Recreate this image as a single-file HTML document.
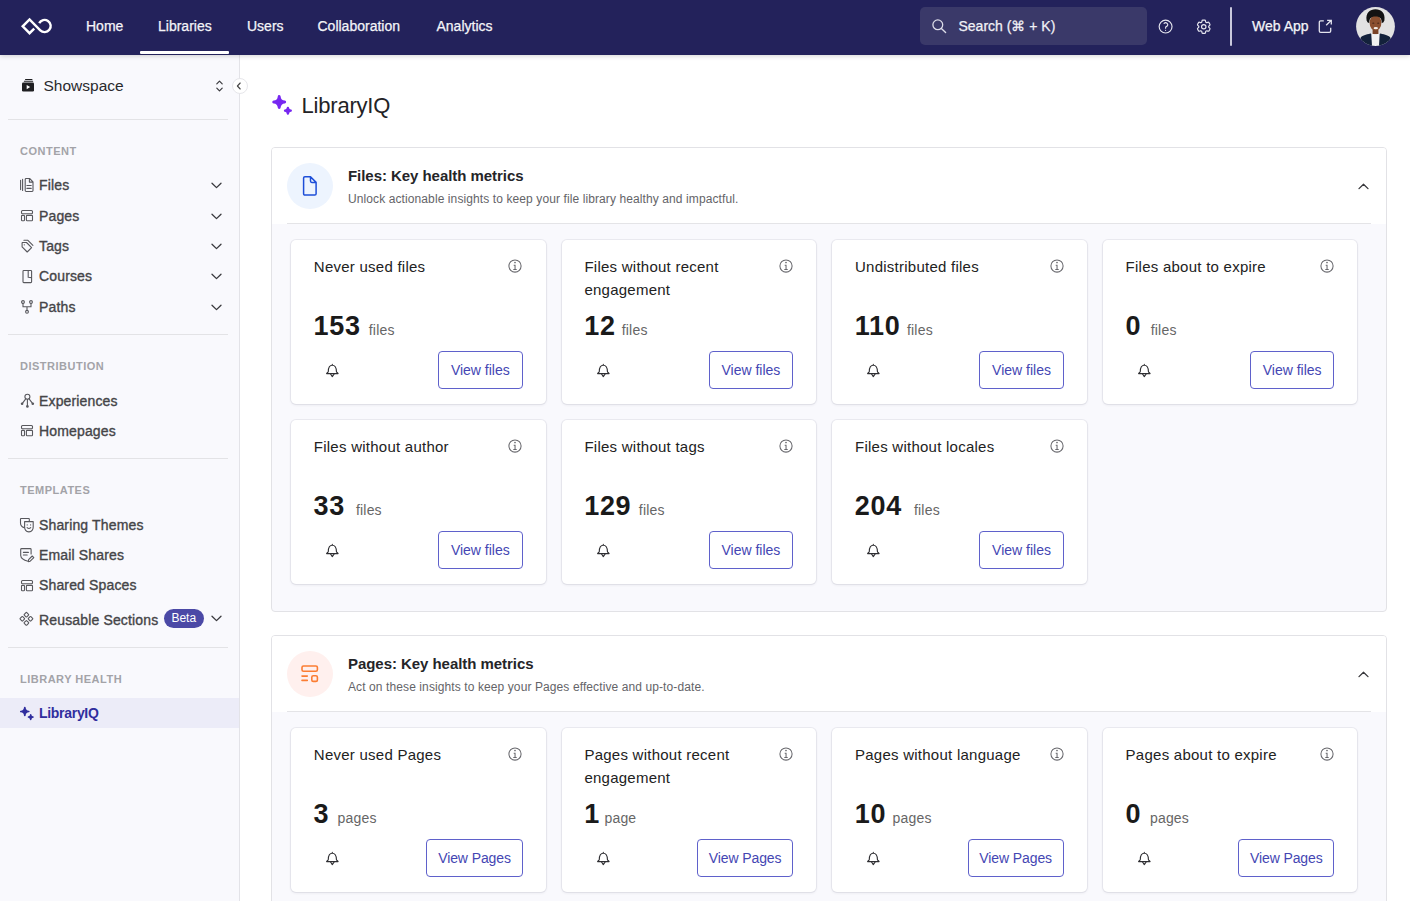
<!DOCTYPE html>
<html><head><meta charset="utf-8"><title>LibraryIQ</title>
<style>
*{box-sizing:border-box;margin:0;padding:0}
html,body{width:1410px;height:901px;overflow:hidden;background:#fff;font-family:"Liberation Sans",sans-serif;color:#222}
.abs{position:absolute}
svg{display:block;position:absolute;overflow:visible}
#top{position:absolute;left:0;top:0;width:1410px;height:55px;background:#23225b;z-index:5;box-shadow:0 1px 5px rgba(0,0,0,.18)}
.nav{position:absolute;top:15.7px;font-size:14px;line-height:20px;color:#f4f4f8;white-space:nowrap;-webkit-text-stroke:.25px #f4f4f8}
#uline{position:absolute;left:140px;top:51.3px;width:89px;height:3px;background:#fff;border-radius:1px}
#search{position:absolute;left:920px;top:7px;width:227px;height:38px;background:#3a3969;border-radius:5px}
#side{position:absolute;z-index:2;left:0;top:55px;width:240px;height:846px;background:#f9f9fd;border-right:1px solid #e3e3e8}
.sep{position:absolute;left:8px;width:220px;height:1px;background:#e3e3e6}
.lab{position:absolute;left:20px;font-size:11px;line-height:16px;font-weight:700;letter-spacing:.5px;color:#a3a3a8}
.it{position:absolute;left:39px;font-size:14px;line-height:20px;color:#454548;white-space:nowrap;letter-spacing:.15px;-webkit-text-stroke:.35px #454548}
.chev{position:absolute;left:211px;width:11px;height:7px}
#main{position:absolute;left:240px;top:55px;width:1170px;height:846px;background:#fff}
.sec{position:absolute;left:271px;width:1116px;height:464px;border:1px solid #e2e2e6;border-radius:4px;background:#f9f9fd;overflow:hidden}
.sechd{position:absolute;left:0;top:0;width:1114px;height:76px;background:#fff}
.sechd .line{position:absolute;left:15px;top:75px;width:1084px;height:1px;background:#e4e4e7}
.circ{position:absolute;left:15px;top:15px;width:46px;height:46px;border-radius:50%}
.sect{position:absolute;left:76px;top:17.5px;font-size:15px;line-height:20px;font-weight:700;color:#252528;white-space:nowrap;letter-spacing:-.05px}
.secs{position:absolute;left:76px;top:43px;font-size:12px;line-height:16px;color:#646468;white-space:nowrap;letter-spacing:.1px}
.card{position:absolute;width:254.6px;height:164px;background:#fff;border-radius:5px;box-shadow:0 0 0 1px rgba(30,30,70,.06),0 1px 3px rgba(30,30,70,.09)}
.ct{position:absolute;left:22.8px;top:15.2px;width:190px;font-size:15px;line-height:23px;color:#222;letter-spacing:.25px}
.num{position:absolute;left:22.6px;top:69.8px;font-size:27px;line-height:32px;font-weight:700;color:#1a1a1a;letter-spacing:.7px;white-space:nowrap}
.num span{font-size:14px;font-weight:400;color:#666;letter-spacing:.2px;margin-left:8px}
.btn{position:absolute;right:23px;top:111px;height:38px;border:1px solid #5f61cb;border-radius:4px;font-size:14px;line-height:36px;color:#4446b3;text-align:center;white-space:nowrap;width:84.5px}
.btn.p{width:96.2px;letter-spacing:-.1px}
</style></head><body>
<div id="top">
<svg style="left:16px;top:12px" width="40" height="28" viewBox="0 0 40 28"><path d="M18.2 16.6 L13.55 21.2 L6.7 14.35 L13.55 7.5 L24.29 18.31 A6.1 6.1 0 1 0 23.21 11.14" fill="none" stroke="#fff" stroke-width="2.4" stroke-linejoin="miter"/></svg>
<div class="nav" style="left:86px">Home</div>
<div class="nav" style="left:158px">Libraries</div>
<div class="nav" style="left:247px">Users</div>
<div class="nav" style="left:317.5px">Collaboration</div>
<div class="nav" style="left:436.5px">Analytics</div>
<div id="uline"></div>
<div id="search"></div>
<svg style="left:932px;top:19px" width="15" height="14" viewBox="0 0 15 14"><circle cx="5.8" cy="5.8" r="4.9" fill="none" stroke="#dcdce8" stroke-width="1.3"/><path d="M9.4 9.4 L13.6 13.4" stroke="#dcdce8" stroke-width="1.4" stroke-linecap="round"/></svg>
<div class="nav" style="left:958.5px;top:16.4px;color:#f0f0f5">Search (&#8984; + K)</div>
<svg style="left:1157.35px;top:18px" width="17.2" height="17.2" viewBox="0 0 24 24"><path fill="none" stroke="#e6e6ef" stroke-width="1.6" stroke-linecap="round" stroke-linejoin="round" d="M9.879 7.519c1.171-1.025 3.071-1.025 4.242 0 1.172 1.025 1.172 2.687 0 3.712-.203.179-.43.326-.67.442-.745.361-1.45.999-1.45 1.827v.75M21 12a9 9 0 1 1-18 0 9 9 0 0 1 18 0Zm-9 5.25h.008v.008H12v-.008Z"/></svg>
<svg style="left:1195.3px;top:18.4px" width="17.5" height="17.5" viewBox="0 0 24 24"><path fill="none" stroke="#e6e6ef" stroke-width="1.6" stroke-linecap="round" stroke-linejoin="round" d="M9.594 3.94c.09-.542.56-.94 1.11-.94h2.593c.55 0 1.02.398 1.11.94l.213 1.281c.063.374.313.686.645.87.074.04.147.083.22.127.325.196.72.257 1.075.124l1.217-.456a1.125 1.125 0 0 1 1.37.49l1.296 2.247a1.125 1.125 0 0 1-.26 1.431l-1.003.827c-.293.241-.438.613-.43.992a7.723 7.723 0 0 1 0 .255c-.008.378.137.75.43.991l1.004.827c.424.35.534.955.26 1.43l-1.298 2.247a1.125 1.125 0 0 1-1.369.491l-1.217-.456c-.355-.133-.75-.072-1.076.124a6.47 6.47 0 0 1-.22.128c-.331.183-.581.495-.644.869l-.213 1.281c-.09.543-.56.94-1.11.94h-2.594c-.55 0-1.019-.398-1.11-.94l-.213-1.281c-.062-.374-.312-.686-.644-.87a6.52 6.52 0 0 1-.22-.127c-.325-.196-.72-.257-1.076-.124l-1.217.456a1.125 1.125 0 0 1-1.369-.49l-1.297-2.247a1.125 1.125 0 0 1 .26-1.431l1.004-.827c.292-.24.437-.613.43-.991a6.932 6.932 0 0 1 0-.255c.007-.38-.138-.751-.43-.992l-1.004-.827a1.125 1.125 0 0 1-.26-1.43l1.297-2.247a1.125 1.125 0 0 1 1.37-.491l1.216.456c.356.133.751.072 1.076-.124.072-.044.146-.086.22-.128.332-.183.582-.495.644-.869l.214-1.28Z"/><path fill="none" stroke="#e6e6ef" stroke-width="1.6" d="M15 12a3 3 0 1 1-6 0 3 3 0 0 1 6 0Z"/></svg>
<div class="abs" style="left:1230px;top:7px;width:2px;height:39px;background:#c9c9dc;border-radius:1px"></div>
<div class="nav" style="left:1252px;top:15.7px">Web App</div>
<svg style="left:1318px;top:19px" width="15" height="15" viewBox="0 0 15 15"><path d="M5.8 1.9 H2.7 Q1.3 1.9 1.3 3.3 V11.9 Q1.3 13.3 2.7 13.3 H11.3 Q12.7 13.3 12.7 11.9 V8.7" fill="none" stroke="#e4e4ee" stroke-width="1.3"/><path d="M8.2 6.3 L13.2 1.3 M9.1 1.3 H13.3 V5.5" fill="none" stroke="#e4e4ee" stroke-width="1.3"/></svg>
<svg style="left:1356px;top:7px" width="39" height="39" viewBox="0 0 39 39"><defs><clipPath id="av"><circle cx="19.5" cy="19.5" r="19.4"/></clipPath></defs><g clip-path="url(#av)"><rect width="39" height="39" fill="#e2e2e2"/><path d="M3.5 39 L4.5 31 C6 28.6 10 27.6 14.5 26.6 L19.5 28 L24.5 26.6 C29 27.6 33 28.6 34.6 31 L35.5 39 Z" fill="#13213b"/><path d="M15.2 26 L19.5 27.5 L23.7 26 L23 39 L16 39 Z" fill="#f2f2f2"/><rect x="16.6" y="20" width="5.8" height="7" fill="#7a4327"/><ellipse cx="19.5" cy="15.8" rx="5.9" ry="7.6" fill="#8b5030"/><path d="M10.6 13.5 C9.4 5.5 14 2.2 19.5 2.2 C25 2.2 29.6 5.5 28.4 13.5 C27.8 15.2 26.8 16 25.8 16 C25.6 12 24.6 9.6 19.5 9.6 C14.4 9.6 13.4 12 13.2 16 C12.2 16 11.2 15.2 10.6 13.5 Z" fill="#121212"/><ellipse cx="19.8" cy="21.2" rx="2.2" ry="1.1" fill="#f4efe9"/><ellipse cx="17.3" cy="16.2" rx="1.1" ry=".6" fill="#4a2818"/><ellipse cx="22.2" cy="16.2" rx="1.1" ry=".6" fill="#4a2818"/></g></svg>
</div>
<div id="side">
<svg style="left:22px;top:23.5px" width="12" height="13" viewBox="0 0 12 13"><rect x="3" y="0" width="7.5" height="1" rx=".5" fill="#1f1f22"/><rect x="1.8" y="1.8" width="9.4" height="1" rx=".5" fill="#1f1f22"/><rect x="0" y="3.6" width="12" height="9" rx="1.3" fill="#1f1f22"/><path d="M4.7 5.9 L8.2 8.1 L4.7 10.3 Z" fill="#fff"/></svg>
<div class="abs" style="left:43.5px;top:20.5px;font-size:15.5px;line-height:20px;color:#2a2a2d;white-space:nowrap">Showspace</div>
<svg style="left:215.5px;top:25px" width="7" height="12" viewBox="0 0 7 12"><path d="M.8 3.8 L3.5 1.1 L6.2 3.8 M.8 8.2 L3.5 10.9 L6.2 8.2" fill="none" stroke="#3a3a3e" stroke-width="1.2" stroke-linecap="round" stroke-linejoin="round"/></svg>
<div class="sep" style="top:63.5px"></div>
<svg style="left:20px;top:123.00px" width="14" height="14" viewBox="0 0 14 14"><path d="M.6 2.2 V11.6 M2.6 1.4 V12.4" fill="none" stroke="#58585d" stroke-width="1.1" stroke-linecap="round" stroke-linejoin="round"/><path d="M5.2 1.4 Q5.2 .5 6.1 .5 H9.6 L13 3.9 V12.6 Q13 13.5 12.1 13.5 H6.1 Q5.2 13.5 5.2 12.6 Z M9.4 .6 V4.1 H12.9" fill="none" stroke="#58585d" stroke-width="1.1" stroke-linecap="round" stroke-linejoin="round"/><path d="M6.9 7.5 H11.2 M6.9 10.4 H11.2" fill="none" stroke="#58585d" stroke-width="1.1" stroke-linecap="round" stroke-linejoin="round"/></svg>
<svg style="left:21px;top:154.60px" width="12" height="12" viewBox="0 0 12 12"><rect x=".5" y=".5" width="11" height="3.2" rx="1" fill="none" stroke="#58585d" stroke-width="1.1" stroke-linecap="round" stroke-linejoin="round"/><rect x=".5" y="5.4" width="3" height="5.4" rx=".8" fill="none" stroke="#58585d" stroke-width="1.1" stroke-linecap="round" stroke-linejoin="round"/><rect x="5.4" y="5.4" width="6.1" height="5.4" rx=".8" fill="none" stroke="#58585d" stroke-width="1.1" stroke-linecap="round" stroke-linejoin="round"/></svg>
<svg style="left:20.5px;top:183.80px" width="13" height="14" viewBox="0 0 13 14"><path d="M1.1 3.9 V7.9 L6.2 13 L10.6 8.6 L5.5 3.5 H1.5 Z" fill="none" stroke="#58585d" stroke-width="1.1" stroke-linecap="round" stroke-linejoin="round"/><circle cx="3.3" cy="5.8" r=".65" fill="#58585d"/><path d="M2.9 1.3 H6.9 L11.9 6.3" fill="none" stroke="#58585d" stroke-width="1.1" stroke-linecap="round" stroke-linejoin="round"/></svg>
<svg style="left:22px;top:214.50px" width="11" height="14" viewBox="0 0 11 14"><path d="M1 1.3 Q1 .5 1.8 .5 H8.8 Q9.6 .5 9.6 1.3 V11.8 Q9.6 12.6 8.8 12.6 H1.8 Q1 12.6 1 11.8 Z" fill="none" stroke="#58585d" stroke-width="1.1" stroke-linecap="round" stroke-linejoin="round"/><path d="M6.2 .6 V7.2 L9.5 7.6" fill="none" stroke="#58585d" stroke-width="1.1" stroke-linecap="round" stroke-linejoin="round"/></svg>
<svg style="left:21px;top:245.00px" width="12" height="14" viewBox="0 0 12 14"><circle cx="2" cy="2" r="1.4" fill="none" stroke="#58585d" stroke-width="1.1" stroke-linecap="round" stroke-linejoin="round"/><circle cx="10" cy="2" r="1.4" fill="none" stroke="#58585d" stroke-width="1.1" stroke-linecap="round" stroke-linejoin="round"/><circle cx="6" cy="11.8" r="1.4" fill="none" stroke="#58585d" stroke-width="1.1" stroke-linecap="round" stroke-linejoin="round"/><path d="M2 3.4 V6.8 H10 V3.4 M6 6.8 V10.4" fill="none" stroke="#58585d" stroke-width="1.1" stroke-linecap="round" stroke-linejoin="round"/></svg>
<svg style="left:20.5px;top:338.00px" width="13" height="15" viewBox="0 0 13 15"><circle cx="6.4" cy="3.7" r="2.5" fill="none" stroke="#58585d" stroke-width="1.1" stroke-linecap="round" stroke-linejoin="round"/><path d="M4.9 5.7 L1.2 10.6 M6.4 6.2 V13.4 M7.9 5.7 L11.7 10.6" fill="none" stroke="#58585d" stroke-width="1.1" stroke-linecap="round" stroke-linejoin="round"/><circle cx="1.1" cy="10.7" r="1.3" fill="#58585d"/><circle cx="6.4" cy="13.4" r="1.3" fill="#58585d"/><circle cx="11.8" cy="10.7" r="1.3" fill="#58585d"/></svg>
<svg style="left:21px;top:370.40px" width="12" height="12" viewBox="0 0 12 12"><rect x=".5" y=".5" width="11" height="3.2" rx="1" fill="none" stroke="#58585d" stroke-width="1.1" stroke-linecap="round" stroke-linejoin="round"/><rect x=".5" y="5.4" width="3" height="5.4" rx=".8" fill="none" stroke="#58585d" stroke-width="1.1" stroke-linecap="round" stroke-linejoin="round"/><rect x="5.4" y="5.4" width="6.1" height="5.4" rx=".8" fill="none" stroke="#58585d" stroke-width="1.1" stroke-linecap="round" stroke-linejoin="round"/></svg>
<svg style="left:20px;top:462.50px" width="14" height="15" viewBox="0 0 14 15"><path d="M4.2 9.6 Q.5 8.6 .5 5 V1 Q.5 .5 1 .5 H8.8 Q9.3 .5 9.3 1 V3" fill="none" stroke="#58585d" stroke-width="1.1" stroke-linecap="round" stroke-linejoin="round"/><path d="M4.6 3.6 H13.2 V9 Q13.2 13.4 8.9 13.9 Q4.6 13.4 4.6 9 Z" fill="none" stroke="#58585d" stroke-width="1.1" stroke-linecap="round" stroke-linejoin="round"/><circle cx="7.2" cy="6.9" r=".6" fill="#58585d"/><circle cx="10.6" cy="6.9" r=".6" fill="#58585d"/><path d="M7.1 9.6 Q8.9 11.4 10.7 9.6" fill="none" stroke="#58585d" stroke-width="1.1" stroke-linecap="round" stroke-linejoin="round"/></svg>
<svg style="left:20px;top:493.00px" width="14" height="15" viewBox="0 0 14 15"><path d="M8 13.2 Q1 11.5 .7 7.5 V1.5 Q.7 .6 1.6 .6 H10.2 Q11.1 .6 11.1 1.5 V6" fill="none" stroke="#58585d" stroke-width="1.1" stroke-linecap="round" stroke-linejoin="round"/><path d="M3.4 4.4 H8.4 M3.4 7 H7.2" fill="none" stroke="#58585d" stroke-width="1.1" stroke-linecap="round" stroke-linejoin="round"/><path d="M8.4 13.6 L8.6 11.6 L12.2 8 L13.8 9.6 L10.2 13.2 Z" fill="none" stroke="#58585d" stroke-width="1.1" stroke-linecap="round" stroke-linejoin="round"/></svg>
<svg style="left:21px;top:524.60px" width="12" height="12" viewBox="0 0 12 12"><rect x=".5" y=".5" width="11" height="3.2" rx="1" fill="none" stroke="#58585d" stroke-width="1.1" stroke-linecap="round" stroke-linejoin="round"/><rect x=".5" y="5.4" width="3" height="5.4" rx=".8" fill="none" stroke="#58585d" stroke-width="1.1" stroke-linecap="round" stroke-linejoin="round"/><rect x="5.4" y="5.4" width="6.1" height="5.4" rx=".8" fill="none" stroke="#58585d" stroke-width="1.1" stroke-linecap="round" stroke-linejoin="round"/></svg>
<svg style="left:20px;top:557.00px" width="14" height="14" viewBox="0 0 14 14"><rect x="4.6" y=".9" width="3.6" height="3.6" rx=".6" transform="rotate(45 6.4 2.7)" fill="none" stroke="#58585d" stroke-width="1.1" stroke-linecap="round" stroke-linejoin="round"/><rect x="4.6" y="9.1" width="3.6" height="3.6" rx=".6" transform="rotate(45 6.4 10.9)" fill="none" stroke="#58585d" stroke-width="1.1" stroke-linecap="round" stroke-linejoin="round"/><rect x=".5" y="5" width="3.6" height="3.6" rx=".6" transform="rotate(45 2.3 6.8)" fill="none" stroke="#58585d" stroke-width="1.1" stroke-linecap="round" stroke-linejoin="round"/><rect x="8.7" y="5" width="3.6" height="3.6" rx=".6" transform="rotate(45 10.5 6.8)" fill="none" stroke="#58585d" stroke-width="1.1" stroke-linecap="round" stroke-linejoin="round"/></svg>
<div class="lab" style="top:87.89px">CONTENT</div>
<div class="it" style="top:120.15px">Files</div><svg class="chev" style="top:127.10px" viewBox="0 0 11 7"><path d="M1 1.2 L5.5 5.6 L10 1.2" fill="none" stroke="#3a3a3e" stroke-width="1.3" stroke-linecap="round" stroke-linejoin="round"/></svg>
<div class="it" style="top:150.57px">Pages</div><svg class="chev" style="top:157.52px" viewBox="0 0 11 7"><path d="M1 1.2 L5.5 5.6 L10 1.2" fill="none" stroke="#3a3a3e" stroke-width="1.3" stroke-linecap="round" stroke-linejoin="round"/></svg>
<div class="it" style="top:180.99px">Tags</div><svg class="chev" style="top:187.94px" viewBox="0 0 11 7"><path d="M1 1.2 L5.5 5.6 L10 1.2" fill="none" stroke="#3a3a3e" stroke-width="1.3" stroke-linecap="round" stroke-linejoin="round"/></svg>
<div class="it" style="top:211.41px">Courses</div><svg class="chev" style="top:218.36px" viewBox="0 0 11 7"><path d="M1 1.2 L5.5 5.6 L10 1.2" fill="none" stroke="#3a3a3e" stroke-width="1.3" stroke-linecap="round" stroke-linejoin="round"/></svg>
<div class="it" style="top:241.83px">Paths</div><svg class="chev" style="top:248.78px" viewBox="0 0 11 7"><path d="M1 1.2 L5.5 5.6 L10 1.2" fill="none" stroke="#3a3a3e" stroke-width="1.3" stroke-linecap="round" stroke-linejoin="round"/></svg>
<div class="sep" style="top:278.5px"></div>
<div class="lab" style="top:303.19px">DISTRIBUTION</div>
<div class="it" style="top:335.75px">Experiences</div>
<div class="it" style="top:366.15px">Homepages</div>
<div class="sep" style="top:403.1px"></div>
<div class="lab" style="top:427.49px">TEMPLATES</div>
<div class="it" style="top:459.85px">Sharing Themes</div>
<div class="it" style="top:490.15px">Email Shares</div>
<div class="it" style="top:520.25px">Shared Spaces</div>
<div class="it" style="top:554.65px">Reusable Sections</div>
<div class="abs" style="left:164px;top:554px;width:39.5px;height:19px;border-radius:10px;background:#4b49a6;color:#fff;font-size:12px;line-height:19px;text-align:center">Beta</div>
<svg class="chev" style="top:560.20px" viewBox="0 0 11 7"><path d="M1 1.2 L5.5 5.6 L10 1.2" fill="none" stroke="#3a3a3e" stroke-width="1.3" stroke-linecap="round" stroke-linejoin="round"/></svg>
<div class="sep" style="top:591.5px"></div>
<div class="lab" style="top:616.29px">LIBRARY HEALTH</div>
<div class="abs" style="left:0;top:643px;width:239px;height:30.4px;background:#ececf8"></div>
<div class="it" style="top:648.35px;color:#302e9e;font-weight:700;letter-spacing:-.3px;-webkit-text-stroke:0">LibraryIQ</div>
<svg style="left:18px;top:648px" width="18" height="18" viewBox="0 0 18 18"><path d="M6.8 4.5 Q7.0 8.3 10.8 8.5 Q7.0 8.7 6.8 12.5 Q6.6 8.7 2.8 8.5 Q6.6 8.3 6.8 4.5 Z" fill="#302e9e" stroke="#302e9e" stroke-width="1.7" stroke-linejoin="round"/><path d="M12.7 11.8 Q12.85 13.95 15.0 14.1 Q12.85 14.25 12.7 16.4 Q12.549999999999999 14.25 10.399999999999999 14.1 Q12.549999999999999 13.95 12.7 11.8 Z" fill="#302e9e" stroke="#302e9e" stroke-width="1.5" stroke-linejoin="round"/></svg>
<div class="abs" style="left:231.5px;top:22.8px;width:16px;height:16px;border-radius:50%;background:#fff;border:1px solid #e6e6ea"></div>
<svg style="left:236.3px;top:26.8px" width="6" height="8" viewBox="0 0 6 8"><path d="M4.2 1 L1.4 4 L4.2 7" fill="none" stroke="#444" stroke-width="1.1" stroke-linecap="round" stroke-linejoin="round"/></svg>
</div>
<div id="main"></div>
<svg style="left:270px;top:92px" width="25" height="25" viewBox="0 0 25 25"><path d="M9.2 4.5 Q9.549999999999999 9.65 14.7 10 Q9.549999999999999 10.35 9.2 15.5 Q8.85 10.35 3.6999999999999993 10 Q8.85 9.65 9.2 4.5 Z" fill="#7727f1" stroke="#7727f1" stroke-width="2.9" stroke-linejoin="round"/><path d="M17.9 15.799999999999999 Q18.15 18.45 20.799999999999997 18.7 Q18.15 18.95 17.9 21.599999999999998 Q17.65 18.95 14.999999999999998 18.7 Q17.65 18.45 17.9 15.799999999999999 Z" fill="#7727f1" stroke="#7727f1" stroke-width="2.3" stroke-linejoin="round"/></svg>
<div class="abs" style="left:301.5px;top:91.3px;font-size:22px;letter-spacing:-.2px;line-height:30px;color:#232326;white-space:nowrap">LibraryIQ</div>
<div class="sec" style="top:147px;height:465px">
<div class="sechd"><div class="circ" style="background:#edf4fe"></div><svg style="left:30px;top:27px" width="16" height="22" viewBox="0 0 16 22"><path d="M1.6 3.1 Q1.6 1.8 2.9 1.8 H8.5 L14.1 7.4 V18.8 Q14.1 20.1 12.8 20.1 H2.9 Q1.6 20.1 1.6 18.8 Z M8.5 1.9 V6.1 Q8.5 7.4 9.8 7.4 H14" fill="none" stroke="#1d4ed8" stroke-width="1.5" stroke-linejoin="round"/></svg>
<div class="sect">Files: Key health metrics</div>
<div class="secs">Unlock actionable insights to keep your file library healthy and impactful.</div>
<svg style="left:1086px;top:35px" width="11" height="7" viewBox="0 0 11 7"><path d="M1 5.6 L5.5 1.2 L10 5.6" fill="none" stroke="#38383c" stroke-width="1.3" stroke-linecap="round" stroke-linejoin="round"/></svg>
<div class="line"></div></div>
<div class="card" style="left:19.0px;top:92.0px">
<div class="ct">Never used files</div>
<svg style="left:217.4px;top:18.9px" width="14" height="14" viewBox="0 0 14 14"><circle cx="7" cy="7" r="6.1" fill="none" stroke="#68686d" stroke-width="1.05"/><circle cx="7" cy="3.5" r=".85" fill="#68686d"/><path d="M5.7 6.2 H7.05 V10.4 M5.3 10.55 H8.7" fill="none" stroke="#68686d" stroke-width="1.05"/></svg>
<div class="num">153<span style="margin-left:8px">files</span></div>
<svg style="left:35px;top:123.8px" width="14" height="15" viewBox="0 0 14 15"><path d="M6.3 .2 V1.1 M2.3 7.5 C2.3 3.6 3.9 1.2 6.3 1.2 C8.7 1.2 10.4 3.6 10.4 7.5 C10.4 8.2 11.6 8.6 12.1 9.6 H.6 C1.1 8.6 2.3 8.2 2.3 7.5 Z" fill="none" stroke="#2e2e32" stroke-width="1.1" stroke-linejoin="round" stroke-linecap="round"/><path d="M4.4 9.8 L6.3 12.6 L8.3 9.8" fill="none" stroke="#2e2e32" stroke-width="1.1" stroke-linejoin="round"/></svg>
<div class="btn">View files</div>
</div>
<div class="card" style="left:289.6px;top:92.0px">
<div class="ct">Files without recent engagement</div>
<svg style="left:217.4px;top:18.9px" width="14" height="14" viewBox="0 0 14 14"><circle cx="7" cy="7" r="6.1" fill="none" stroke="#68686d" stroke-width="1.05"/><circle cx="7" cy="3.5" r=".85" fill="#68686d"/><path d="M5.7 6.2 H7.05 V10.4 M5.3 10.55 H8.7" fill="none" stroke="#68686d" stroke-width="1.05"/></svg>
<div class="num">12<span style="margin-left:6.1px">files</span></div>
<svg style="left:35px;top:123.8px" width="14" height="15" viewBox="0 0 14 15"><path d="M6.3 .2 V1.1 M2.3 7.5 C2.3 3.6 3.9 1.2 6.3 1.2 C8.7 1.2 10.4 3.6 10.4 7.5 C10.4 8.2 11.6 8.6 12.1 9.6 H.6 C1.1 8.6 2.3 8.2 2.3 7.5 Z" fill="none" stroke="#2e2e32" stroke-width="1.1" stroke-linejoin="round" stroke-linecap="round"/><path d="M4.4 9.8 L6.3 12.6 L8.3 9.8" fill="none" stroke="#2e2e32" stroke-width="1.1" stroke-linejoin="round"/></svg>
<div class="btn">View files</div>
</div>
<div class="card" style="left:560.2px;top:92.0px">
<div class="ct">Undistributed files</div>
<svg style="left:217.4px;top:18.9px" width="14" height="14" viewBox="0 0 14 14"><circle cx="7" cy="7" r="6.1" fill="none" stroke="#68686d" stroke-width="1.05"/><circle cx="7" cy="3.5" r=".85" fill="#68686d"/><path d="M5.7 6.2 H7.05 V10.4 M5.3 10.55 H8.7" fill="none" stroke="#68686d" stroke-width="1.05"/></svg>
<div class="num">110<span style="margin-left:6.5px">files</span></div>
<svg style="left:35px;top:123.8px" width="14" height="15" viewBox="0 0 14 15"><path d="M6.3 .2 V1.1 M2.3 7.5 C2.3 3.6 3.9 1.2 6.3 1.2 C8.7 1.2 10.4 3.6 10.4 7.5 C10.4 8.2 11.6 8.6 12.1 9.6 H.6 C1.1 8.6 2.3 8.2 2.3 7.5 Z" fill="none" stroke="#2e2e32" stroke-width="1.1" stroke-linejoin="round" stroke-linecap="round"/><path d="M4.4 9.8 L6.3 12.6 L8.3 9.8" fill="none" stroke="#2e2e32" stroke-width="1.1" stroke-linejoin="round"/></svg>
<div class="btn">View files</div>
</div>
<div class="card" style="left:830.8px;top:92.0px">
<div class="ct">Files about to expire</div>
<svg style="left:217.4px;top:18.9px" width="14" height="14" viewBox="0 0 14 14"><circle cx="7" cy="7" r="6.1" fill="none" stroke="#68686d" stroke-width="1.05"/><circle cx="7" cy="3.5" r=".85" fill="#68686d"/><path d="M5.7 6.2 H7.05 V10.4 M5.3 10.55 H8.7" fill="none" stroke="#68686d" stroke-width="1.05"/></svg>
<div class="num">0<span style="margin-left:9.6px">files</span></div>
<svg style="left:35px;top:123.8px" width="14" height="15" viewBox="0 0 14 15"><path d="M6.3 .2 V1.1 M2.3 7.5 C2.3 3.6 3.9 1.2 6.3 1.2 C8.7 1.2 10.4 3.6 10.4 7.5 C10.4 8.2 11.6 8.6 12.1 9.6 H.6 C1.1 8.6 2.3 8.2 2.3 7.5 Z" fill="none" stroke="#2e2e32" stroke-width="1.1" stroke-linejoin="round" stroke-linecap="round"/><path d="M4.4 9.8 L6.3 12.6 L8.3 9.8" fill="none" stroke="#2e2e32" stroke-width="1.1" stroke-linejoin="round"/></svg>
<div class="btn">View files</div>
</div>
<div class="card" style="left:19.0px;top:271.8px">
<div class="ct">Files without author</div>
<svg style="left:217.4px;top:18.9px" width="14" height="14" viewBox="0 0 14 14"><circle cx="7" cy="7" r="6.1" fill="none" stroke="#68686d" stroke-width="1.05"/><circle cx="7" cy="3.5" r=".85" fill="#68686d"/><path d="M5.7 6.2 H7.05 V10.4 M5.3 10.55 H8.7" fill="none" stroke="#68686d" stroke-width="1.05"/></svg>
<div class="num">33<span style="margin-left:10.9px">files</span></div>
<svg style="left:35px;top:123.8px" width="14" height="15" viewBox="0 0 14 15"><path d="M6.3 .2 V1.1 M2.3 7.5 C2.3 3.6 3.9 1.2 6.3 1.2 C8.7 1.2 10.4 3.6 10.4 7.5 C10.4 8.2 11.6 8.6 12.1 9.6 H.6 C1.1 8.6 2.3 8.2 2.3 7.5 Z" fill="none" stroke="#2e2e32" stroke-width="1.1" stroke-linejoin="round" stroke-linecap="round"/><path d="M4.4 9.8 L6.3 12.6 L8.3 9.8" fill="none" stroke="#2e2e32" stroke-width="1.1" stroke-linejoin="round"/></svg>
<div class="btn">View files</div>
</div>
<div class="card" style="left:289.6px;top:271.8px">
<div class="ct">Files without tags</div>
<svg style="left:217.4px;top:18.9px" width="14" height="14" viewBox="0 0 14 14"><circle cx="7" cy="7" r="6.1" fill="none" stroke="#68686d" stroke-width="1.05"/><circle cx="7" cy="3.5" r=".85" fill="#68686d"/><path d="M5.7 6.2 H7.05 V10.4 M5.3 10.55 H8.7" fill="none" stroke="#68686d" stroke-width="1.05"/></svg>
<div class="num">129<span style="margin-left:7.5px">files</span></div>
<svg style="left:35px;top:123.8px" width="14" height="15" viewBox="0 0 14 15"><path d="M6.3 .2 V1.1 M2.3 7.5 C2.3 3.6 3.9 1.2 6.3 1.2 C8.7 1.2 10.4 3.6 10.4 7.5 C10.4 8.2 11.6 8.6 12.1 9.6 H.6 C1.1 8.6 2.3 8.2 2.3 7.5 Z" fill="none" stroke="#2e2e32" stroke-width="1.1" stroke-linejoin="round" stroke-linecap="round"/><path d="M4.4 9.8 L6.3 12.6 L8.3 9.8" fill="none" stroke="#2e2e32" stroke-width="1.1" stroke-linejoin="round"/></svg>
<div class="btn">View files</div>
</div>
<div class="card" style="left:560.2px;top:271.8px">
<div class="ct">Files without locales</div>
<svg style="left:217.4px;top:18.9px" width="14" height="14" viewBox="0 0 14 14"><circle cx="7" cy="7" r="6.1" fill="none" stroke="#68686d" stroke-width="1.05"/><circle cx="7" cy="3.5" r=".85" fill="#68686d"/><path d="M5.7 6.2 H7.05 V10.4 M5.3 10.55 H8.7" fill="none" stroke="#68686d" stroke-width="1.05"/></svg>
<div class="num">204<span style="margin-left:12px">files</span></div>
<svg style="left:35px;top:123.8px" width="14" height="15" viewBox="0 0 14 15"><path d="M6.3 .2 V1.1 M2.3 7.5 C2.3 3.6 3.9 1.2 6.3 1.2 C8.7 1.2 10.4 3.6 10.4 7.5 C10.4 8.2 11.6 8.6 12.1 9.6 H.6 C1.1 8.6 2.3 8.2 2.3 7.5 Z" fill="none" stroke="#2e2e32" stroke-width="1.1" stroke-linejoin="round" stroke-linecap="round"/><path d="M4.4 9.8 L6.3 12.6 L8.3 9.8" fill="none" stroke="#2e2e32" stroke-width="1.1" stroke-linejoin="round"/></svg>
<div class="btn">View files</div>
</div>
</div>
<div class="sec" style="top:635px">
<div class="sechd"><div class="circ" style="background:#fff0ee"></div><svg style="left:29px;top:29px" width="18" height="18" viewBox="0 0 18 18"><rect x="1" y="1" width="15.4" height="5.3" rx="1.5" fill="none" stroke="#fb7d33" stroke-width="1.6"/><path d="M1 11.1 H6.3 M1 15.4 H6.3" stroke="#fb7d33" stroke-width="1.6" stroke-linecap="round"/><rect x="10.8" y="10.8" width="5.6" height="5.6" rx="1.5" fill="none" stroke="#fb7d33" stroke-width="1.6"/></svg>
<div class="sect">Pages: Key health metrics</div>
<div class="secs">Act on these insights to keep your Pages effective and up-to-date.</div>
<svg style="left:1086px;top:35px" width="11" height="7" viewBox="0 0 11 7"><path d="M1 5.6 L5.5 1.2 L10 5.6" fill="none" stroke="#38383c" stroke-width="1.3" stroke-linecap="round" stroke-linejoin="round"/></svg>
<div class="line"></div></div>
<div class="card" style="left:19.0px;top:92.0px">
<div class="ct">Never used Pages</div>
<svg style="left:217.4px;top:18.9px" width="14" height="14" viewBox="0 0 14 14"><circle cx="7" cy="7" r="6.1" fill="none" stroke="#68686d" stroke-width="1.05"/><circle cx="7" cy="3.5" r=".85" fill="#68686d"/><path d="M5.7 6.2 H7.05 V10.4 M5.3 10.55 H8.7" fill="none" stroke="#68686d" stroke-width="1.05"/></svg>
<div class="num">3<span style="margin-left:8.3px">pages</span></div>
<svg style="left:35px;top:123.8px" width="14" height="15" viewBox="0 0 14 15"><path d="M6.3 .2 V1.1 M2.3 7.5 C2.3 3.6 3.9 1.2 6.3 1.2 C8.7 1.2 10.4 3.6 10.4 7.5 C10.4 8.2 11.6 8.6 12.1 9.6 H.6 C1.1 8.6 2.3 8.2 2.3 7.5 Z" fill="none" stroke="#2e2e32" stroke-width="1.1" stroke-linejoin="round" stroke-linecap="round"/><path d="M4.4 9.8 L6.3 12.6 L8.3 9.8" fill="none" stroke="#2e2e32" stroke-width="1.1" stroke-linejoin="round"/></svg>
<div class="btn p">View Pages</div>
</div>
<div class="card" style="left:289.6px;top:92.0px">
<div class="ct">Pages without recent engagement</div>
<svg style="left:217.4px;top:18.9px" width="14" height="14" viewBox="0 0 14 14"><circle cx="7" cy="7" r="6.1" fill="none" stroke="#68686d" stroke-width="1.05"/><circle cx="7" cy="3.5" r=".85" fill="#68686d"/><path d="M5.7 6.2 H7.05 V10.4 M5.3 10.55 H8.7" fill="none" stroke="#68686d" stroke-width="1.05"/></svg>
<div class="num">1<span style="margin-left:4.5px">page</span></div>
<svg style="left:35px;top:123.8px" width="14" height="15" viewBox="0 0 14 15"><path d="M6.3 .2 V1.1 M2.3 7.5 C2.3 3.6 3.9 1.2 6.3 1.2 C8.7 1.2 10.4 3.6 10.4 7.5 C10.4 8.2 11.6 8.6 12.1 9.6 H.6 C1.1 8.6 2.3 8.2 2.3 7.5 Z" fill="none" stroke="#2e2e32" stroke-width="1.1" stroke-linejoin="round" stroke-linecap="round"/><path d="M4.4 9.8 L6.3 12.6 L8.3 9.8" fill="none" stroke="#2e2e32" stroke-width="1.1" stroke-linejoin="round"/></svg>
<div class="btn p">View Pages</div>
</div>
<div class="card" style="left:560.2px;top:92.0px">
<div class="ct">Pages without language</div>
<svg style="left:217.4px;top:18.9px" width="14" height="14" viewBox="0 0 14 14"><circle cx="7" cy="7" r="6.1" fill="none" stroke="#68686d" stroke-width="1.05"/><circle cx="7" cy="3.5" r=".85" fill="#68686d"/><path d="M5.7 6.2 H7.05 V10.4 M5.3 10.55 H8.7" fill="none" stroke="#68686d" stroke-width="1.05"/></svg>
<div class="num">10<span style="margin-left:6.4px">pages</span></div>
<svg style="left:35px;top:123.8px" width="14" height="15" viewBox="0 0 14 15"><path d="M6.3 .2 V1.1 M2.3 7.5 C2.3 3.6 3.9 1.2 6.3 1.2 C8.7 1.2 10.4 3.6 10.4 7.5 C10.4 8.2 11.6 8.6 12.1 9.6 H.6 C1.1 8.6 2.3 8.2 2.3 7.5 Z" fill="none" stroke="#2e2e32" stroke-width="1.1" stroke-linejoin="round" stroke-linecap="round"/><path d="M4.4 9.8 L6.3 12.6 L8.3 9.8" fill="none" stroke="#2e2e32" stroke-width="1.1" stroke-linejoin="round"/></svg>
<div class="btn p">View Pages</div>
</div>
<div class="card" style="left:830.8px;top:92.0px">
<div class="ct">Pages about to expire</div>
<svg style="left:217.4px;top:18.9px" width="14" height="14" viewBox="0 0 14 14"><circle cx="7" cy="7" r="6.1" fill="none" stroke="#68686d" stroke-width="1.05"/><circle cx="7" cy="3.5" r=".85" fill="#68686d"/><path d="M5.7 6.2 H7.05 V10.4 M5.3 10.55 H8.7" fill="none" stroke="#68686d" stroke-width="1.05"/></svg>
<div class="num">0<span style="margin-left:8.8px">pages</span></div>
<svg style="left:35px;top:123.8px" width="14" height="15" viewBox="0 0 14 15"><path d="M6.3 .2 V1.1 M2.3 7.5 C2.3 3.6 3.9 1.2 6.3 1.2 C8.7 1.2 10.4 3.6 10.4 7.5 C10.4 8.2 11.6 8.6 12.1 9.6 H.6 C1.1 8.6 2.3 8.2 2.3 7.5 Z" fill="none" stroke="#2e2e32" stroke-width="1.1" stroke-linejoin="round" stroke-linecap="round"/><path d="M4.4 9.8 L6.3 12.6 L8.3 9.8" fill="none" stroke="#2e2e32" stroke-width="1.1" stroke-linejoin="round"/></svg>
<div class="btn p">View Pages</div>
</div>
</div>

</body></html>
